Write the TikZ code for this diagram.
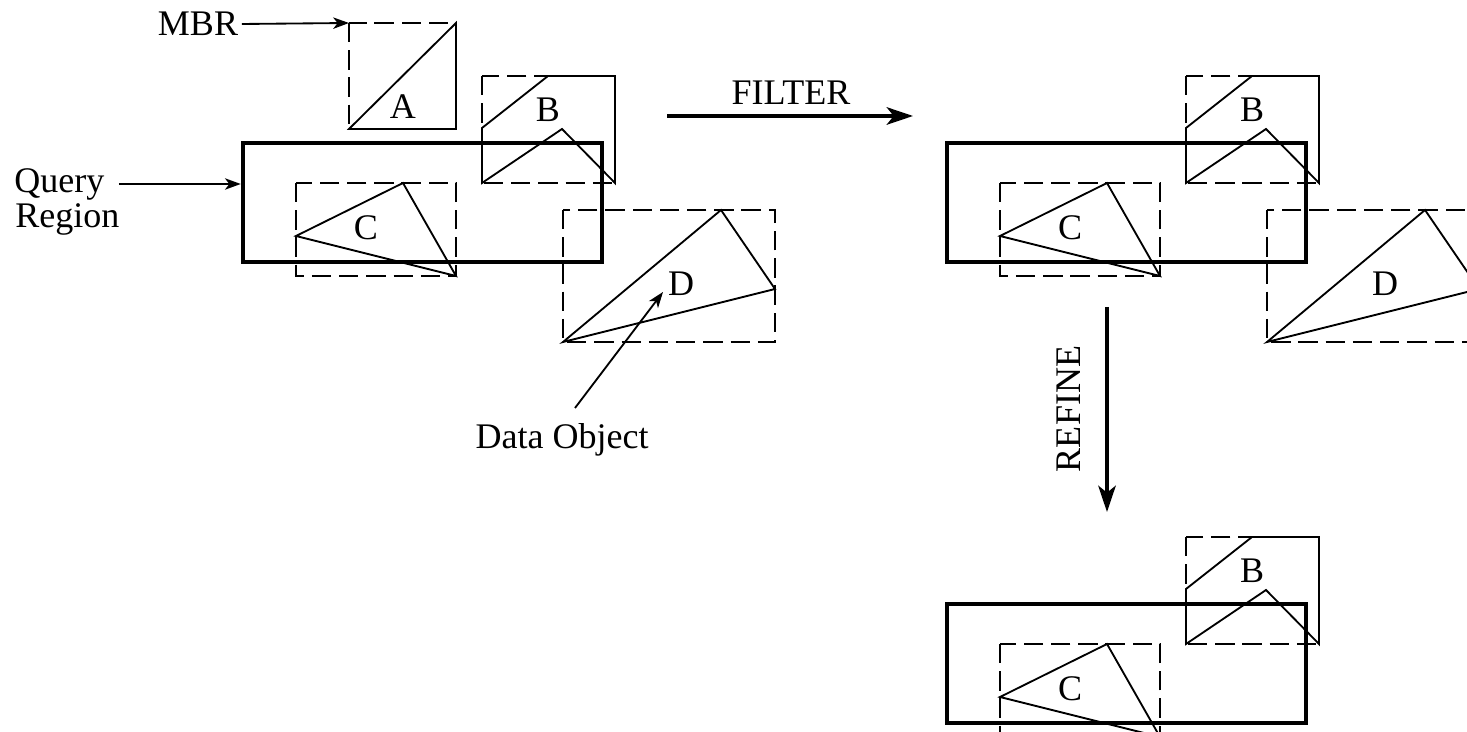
\documentclass[tikz,border=0pt]{standalone}
\usepackage{fontspec}
\setmainfont{Liberation Serif}
\usetikzlibrary{arrows.meta}
\tikzset{
  mbr/.style={line width=1.05pt, dash pattern=on 11pt off 4.5pt},
  obj/.style={line width=1.05pt, line join=miter},
  qbox/.style={draw, line width=2.6pt, minimum width=7.18cm, minimum height=2.38cm, inner sep=0pt},
  lbl/.style={font=\fontsize{20.5}{24}\selectfont, inner sep=0pt},
  ptr/.style={line width=1.05pt, -{Stealth[length=9pt,width=6.5pt,inset=2.5pt]}},
  flow/.style={line width=1.9pt, -{Stealth[length=15pt,width=10pt,inset=4pt]}},
  % query window of one panel
  query/.pic={\node[qbox] (-box) at (422.5,202.5) {};},
  % object A with its bounding rectangle
  objA/.pic={
    \draw[mbr] (349,23) rectangle (456,129);
    \draw[obj] (349,129) -- (456,23) -- (456,129) -- cycle;
    \coordinate (-corner) at (349,23);
    \node[lbl] (-lab) at (403,107) {A};
  },
  objB/.pic={
    \draw[mbr] (482,76) rectangle (615,183);
    \draw[obj] (482,128) -- (548,76) -- (615,76) -- (615,183) -- (562,129) -- (482,183) -- cycle;
    \node[lbl] (-lab) at (548,110) {B};
  },
  objC/.pic={
    \draw[mbr] (296,183) rectangle (456,276);
    \draw[obj] (296,236) -- (403,183) -- (456,276) -- cycle;
    \node[lbl] (-lab) at (366,228) {C};
  },
  objD/.pic={
    \draw[mbr] (563,210) rectangle (775,342);
    \draw[obj] (563,342) -- (721,210) -- (775,289) -- cycle;
    \node[lbl] (-lab) at (681,284) {D};
    \coordinate (-tip) at (663,292);
  },
}
\begin{document}
\begin{tikzpicture}[x=0.02cm, y=-0.02cm]
\useasboundingbox (0,0) rectangle (1467,732);
\clip (0,0) rectangle (1467,732);

% input: all objects against the query window
\pic (L) at (0,0) {query};
\pic (LA) at (0,0) {objA};
\pic (LB) at (0,0) {objB};
\pic (LC) at (0,0) {objC};
\pic (LD) at (0,0) {objD};

\node[lbl] (mbr) at (198,24) {MBR};
\draw[ptr] ([xshift=2pt]mbr.east) -- (LA-corner);

\node[lbl, anchor=west] (qry) at (14,184) {Query};
\node[lbl, anchor=west] (reg) at (15,219) {Region};
\draw[ptr] ([xshift=8pt]qry.east) -- (qry.east -| L-box.west);

\node[lbl] (dobj) at (562,440) {Data Object};
\coordinate (dtail) at (575,408);
\draw[ptr] (dtail) -- (LD-tip);

% filter step
\coordinate (f1) at (667,116);
\coordinate (f2) at (913,116);
\draw[flow] (f1) -- (f2);
\node[lbl] (filter) at (791,93) {FILTER};

% candidates after filtering
\pic (R) at (704,0) {query};
\pic (RB) at (704,0) {objB};
\pic (RC) at (704,0) {objC};
\pic (RD) at (704,0) {objD};

% refine step
\coordinate (r1) at (1107,307);
\coordinate (r2) at (1107,512);
\draw[flow] (r1) -- (r2);
\node[lbl, rotate=90] (refine) at (1069,409) {REFINE};

% exact result
\pic (S) at (704,461) {query};
\pic (SB) at (704,461) {objB};
\pic (SC) at (704,461) {objC};
\end{tikzpicture}
\end{document}
